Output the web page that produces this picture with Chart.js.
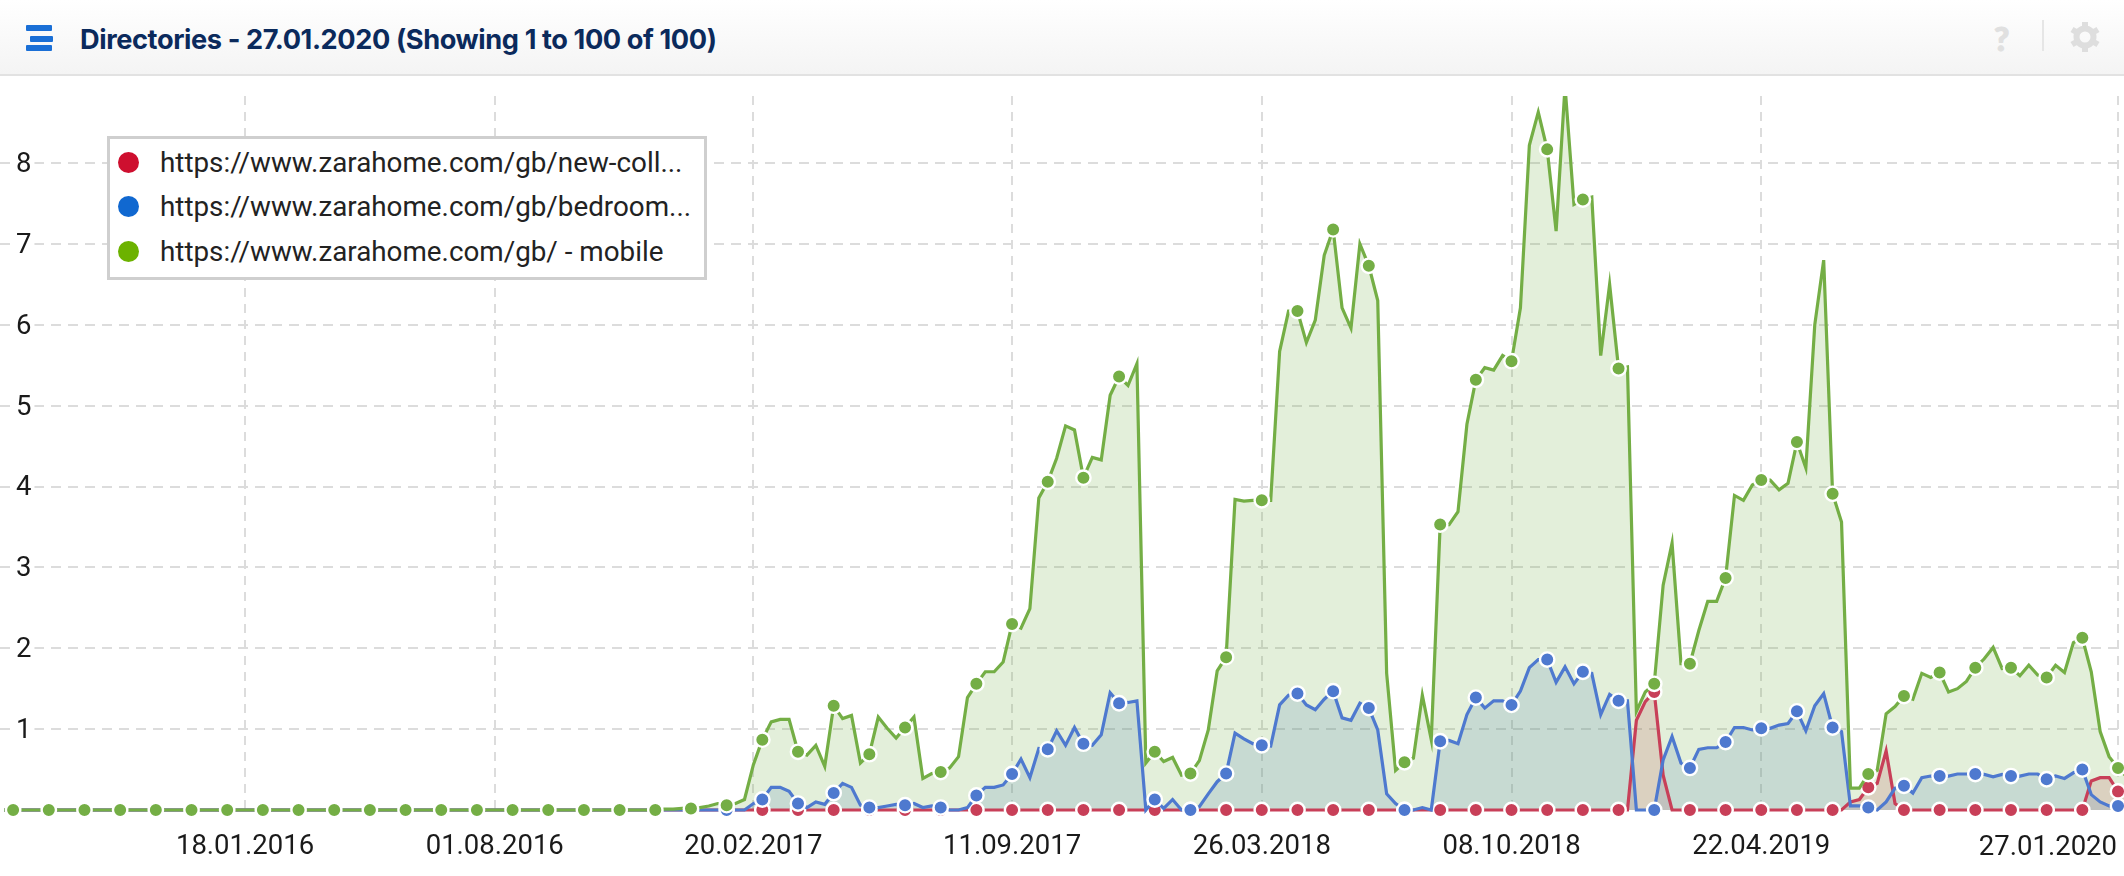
<!DOCTYPE html>
<html>
<head>
<meta charset="utf-8">
<title>Directories</title>
<script src="https://cdn.jsdelivr.net/npm/chart.js@4"></script>
<style>
  html, body { margin: 0; padding: 0; background: #fff; overflow: hidden; }
  #wrap { position: relative; width: 2124px; height: 876px; }
  #chart { position: absolute; left: 0; top: 0; }
  #head {
    position: absolute; left: 0; top: 0; width: 2124px; height: 74px;
    background: linear-gradient(#ffffff, #f4f4f4); border-bottom: 2px solid #e2e2e2;
  }
  #burger i { position: absolute; height: 6px; background: #1a6fd6; border-radius: 1px; }
  #title {
    position: absolute; left: 80px; top: 23px; font: 700 27.2px Inter, sans-serif;
    color: #0b2a5c; white-space: nowrap; letter-spacing: -0.4px;
  }
  #help { position: absolute; left: 1994px; top: 18px; font: 900 33px Lato, sans-serif; color: #e0e0e0; -webkit-text-stroke: 1px #e0e0e0; }
  #sep { position: absolute; left: 2042px; top: 20px; width: 2px; height: 31px; background: #e6e6e6; }
  #gear { position: absolute; left: 2069px; top: 21px; }
  #legend {
    position: absolute; left: 107px; top: 136px; width: 594px; height: 138px;
    background: #fff; border: 3px solid #cfcfcf; font: 27.8px Roboto, sans-serif; color: #222;
  }
  #legend div { position: absolute; left: 0; white-space: nowrap; }
  #legend b { position: absolute; left: 8px; top: 6px; width: 21px; height: 21px; border-radius: 50%; }
  #legend span { position: absolute; left: 50px; top: 0; line-height: 34px; }
</style>
</head>
<body>
<div id="wrap">
  <canvas id="chart" width="2124" height="876"></canvas>
  <div id="head">
    <div id="burger"><i style="left:26px;top:25px;width:26px"></i><i style="left:30px;top:36px;width:23px"></i><i style="left:26px;top:45px;width:26px"></i></div>
    <div id="title">Directories - 27.01.2020 (Showing 1 to 100 of 100)</div>
    <div id="help">?</div>
    <div id="sep"></div>
    <svg id="gear" width="32" height="32" viewBox="-16 -16 32 32">
      <circle r="8.5" fill="none" stroke="#dedede" stroke-width="6"></circle>
      <g fill="#dedede">
        <rect x="-3" y="-15" width="6" height="6"></rect>
        <rect x="-3" y="-15" width="6" height="6" transform="rotate(60)"></rect>
        <rect x="-3" y="-15" width="6" height="6" transform="rotate(120)"></rect>
        <rect x="-3" y="-15" width="6" height="6" transform="rotate(180)"></rect>
        <rect x="-3" y="-15" width="6" height="6" transform="rotate(240)"></rect>
        <rect x="-3" y="-15" width="6" height="6" transform="rotate(300)"></rect>
      </g>
    </svg>
  </div>
  <div id="legend"></div>
</div>
<script>
var tickDates = ['18.01.2016', '01.08.2016', '20.02.2017', '11.09.2017', '26.03.2018', '08.10.2018', '22.04.2019', '27.01.2020'];
var yTicks = [1, 2, 3, 4, 5, 6, 7, 8];

var seriesNames = ['https://www.zarahome.com/gb/new-coll...', 'https://www.zarahome.com/gb/bedroom...', 'https://www.zarahome.com/gb/ - mobile'];

// weekly values, ten per row
var redValues = [
  0,0,0,0,0,0,0,0,0,0, 0,0,0,0,0,0,0,0,0,0, 0,0,0,0,0,0,0,0,0,0, 0,0,0,0,0,0,0,0,0,0,
  0,0,0,0,0,0,0,0,0,0, 0,0,0,0,0,0,0,0,0,0, 0,0,0,0,0,0,0,0,0,0, 0,0,0,0,0,0,0,0,0,0,
  0,0,0,0,0,0,0,0,0,0, 0,0,0,0,0,0,0,0,0,0, 0,0,0,0,0,0,0,0,0,0, 0,0,0,0,0,0,0,0,0,0,
  0,0,0,0,0,0,0,0,0,0, 0,0,0,0,0,0,0,0,0,0, 0,0,0,0,0,0,0,0,0,0, 0,0,0,0,0,0,0,0,0,0,
  0,0,0,0,0,0,0,0,0,0,
  0,0,0,0,0,0,0,0,0,0,
  0,0,0,1.11,1.34,1.46,.43,0,0,0,
  0,0,0,0,0,0,0,0,0,0,
  0,0,0,0,0,0,0,.10,.13,.28,
  .33,.73,.08,0,0,0,0,0,0,0,
  0,0,0,0,0,0,0,0,0,0,
  0,0,0,0,.36,.40,.40,.23,.16
];
var blueValues = [
  0,0,0,0,0,0,0,0,0,0, 0,0,0,0,0,0,0,0,0,0, 0,0,0,0,0,0,0,0,0,0, 0,0,0,0,0,0,0,0,0,0,
  0,0,0,0,0,0,0,0,0,0, 0,0,0,0,0,0,0,0,0,0, 0,0,0,0,0,0,0,0,0,0, 0,0,0,0,0,0,0,0,0,0,
  0,0,0,0,.08,.13,.28,.28,.23,.08,
  .03,.10,.07,.21,.33,.28,.06,.03,.03,.05,
  .07,.06,.08,.03,.05,.03,0,0,.03,.18,
  .28,.28,.31,.445,.63,.40,.76,.75,.98,.80,
  1.02,.82,.80,.93,1.45,1.32,1.33,1.35,0,.13,
  .02,.13,0,0,.04,.20,.35,.45,.95,.88,
  .82,.80,.79,1.30,1.42,1.44,1.30,1.24,1.37,1.47,
  1.14,1.11,1.32,1.26,.99,.20,.08,0,0,.03,
  0,.85,.86,.82,1.18,1.39,1.26,1.35,1.35,1.30,
  1.47,1.76,1.86,1.86,1.58,1.77,1.56,1.71,1.69,1.18,
  1.43,1.35,1.35,0,0,0,.62,.91,.58,.52,
  .75,.77,.77,.84,1.02,1.02,.99,1.01,1.01,1.05,
  1.07,1.22,.98,1.29,1.44,1.02,.97,.05,.05,.03,
  0,.10,.27,.30,.21,.40,.42,.42,.42,.445,
  .445,.445,.44,.41,.44,.42,.42,.445,.445,.38,
  .42,.39,.46,.50,.19,.10,.05,.05,.05
];
var greenValues = [
  0,0,0,0,0,0,0,0,0,0, 0,0,0,0,0,0,0,0,0,0, 0,0,0,0,0,0,0,0,0,0, 0,0,0,0,0,0,0,0,0,0,
  0,0,0,0,0,0,0,0,0,0, 0,0,0,0,0,0,0,0,0,0, 0,0,0,0,0,0,0,0,0,0,
  0,0,0,0,.01,.01,.02,.02,.03,.05,
  .08,.06,.08,.13,.56,.87,1.09,1.12,1.12,.72,
  .68,.80,.54,1.29,1.13,1.17,.58,.69,1.15,1.01,
  .89,1.02,1.15,.39,.45,.47,.52,.66,1.39,1.56,
  1.71,1.71,1.83,2.30,2.25,2.49,3.86,4.06,4.35,4.75,
  4.70,4.11,4.36,4.33,5.13,5.36,5.25,5.52,.58,.72,
  .60,.65,.43,.45,.61,.99,1.72,1.89,3.84,3.82,
  3.83,3.83,3.83,5.67,6.17,6.17,5.78,6.06,6.86,7.18,
  6.21,5.96,7.00,6.73,6.30,1.69,.49,.59,.64,1.42,
  .87,3.53,3.53,3.69,4.77,5.32,5.47,5.44,5.62,5.55,
  6.21,8.22,8.63,8.17,7.16,8.95,7.49,7.55,7.58,5.62,
  6.50,5.46,5.48,1.22,1.46,1.56,2.78,3.30,1.81,1.81,
  2.22,2.58,2.58,2.87,3.89,3.83,4.02,4.08,4.08,3.96,
  4.04,4.55,4.23,6.00,6.80,3.91,3.56,.27,.27,.445,
  .49,1.19,1.28,1.41,1.37,1.69,1.64,1.70,1.46,1.50,
  1.59,1.76,1.87,2.01,1.75,1.76,1.66,1.79,1.67,1.64,
  1.79,1.70,2.07,2.13,1.71,.97,.66,.52,.41
];

function dayNumber(str) {
    var p = str.split('.');
    return Date.UTC(+p[2], +p[1] - 1, +p[0]) / 86400000;
}

var lastDay = dayNumber('27.01.2020');
var firstDay = lastDay - 237 * 7;

function toPoints(values) {
    return values.map(function(v, i) { return {x: firstDay + i * 7, y: v}; });
}

// a dot on every 4th week, counted from the last labelled date
function dotRadius(ctx) {
    return (237 - ctx.dataIndex) % 4 === 0 && ctx.dataIndex <= 237 ? 7.2 : 0;
}

function makeDataset(name, values, line, fill, order) {
    return {
        label: name,
        data: toPoints(values),
        borderColor: line,
        backgroundColor: fill,
        pointBackgroundColor: line,
        pointBorderColor: '#fff',
        pointBorderWidth: 2.4,
        pointRadius: dotRadius,
        borderWidth: 3.2,
        tension: 0,
        fill: 'origin',
        order: order,
        clip: {left: 0, top: 0, right: 10, bottom: 14}
    };
}

// the last date label sits left of its grid line, as it would run off the page otherwise
var lastLabelPlugin = {
    id: 'lastLabel',
    afterDraw: function(chart) {
        var scale = chart.scales.x;
        var c = chart.ctx;
        c.save();
        c.font = '27.5px Roboto';
        c.fillStyle = '#1a1a1a';
        c.textAlign = 'right';
        c.textBaseline = 'middle';
        c.fillText(tickDates[tickDates.length - 1], scale.getPixelForValue(lastDay) - 1, 848);
        c.restore();
    }
};

new Chart('chart', {
    type: 'line',
    data: {
        datasets: [
            makeDataset(seriesNames[0], redValues, '#c83f58', 'rgba(200,63,88,0.2)', 3),
            makeDataset(seriesNames[1], blueValues, '#4e79cf', 'rgba(78,121,207,0.2)', 2),
            makeDataset(seriesNames[2], greenValues, '#74ae45', 'rgba(116,174,69,0.2)', 1)
        ]
    },
    options: {
        responsive: false,
        animation: false,
        devicePixelRatio: 1,
        layout: {padding: {top: 96, left: 0, right: 0, bottom: 0}},
        plugins: {
            legend: {display: false},
            tooltip: {enabled: false},
            // all areas first, so no area tints the lines of another series
            filler: {drawTime: 'beforeDatasetsDraw'}
        },
        events: [],
        scales: {
            x: {
                type: 'linear',
                min: lastDay - 1662.3,
                max: lastDay + 4.7,
                afterBuildTicks: function(scale) {
                    scale.ticks = tickDates.map(function(d) { return {value: dayNumber(d)}; });
                },
                afterFit: function(scale) {
                    scale.height = 66;
                    scale.paddingLeft = 0;
                    scale.paddingRight = 0;
                },
                grid: {color: '#dcdcdc', lineWidth: 2, drawTicks: false},
                border: {display: false, dash: [9, 7]},
                ticks: {
                    autoSkip: false,
                    maxRotation: 0,
                    padding: 21,
                    color: '#1a1a1a',
                    font: {family: 'Roboto', size: 27.5},
                    callback: function(v) {
                        var i = tickDates.map(dayNumber).indexOf(v);
                        return i === tickDates.length - 1 ? '' : tickDates[i];
                    }
                }
            },
            y: {
                min: 0,
                max: 8.83,
                afterBuildTicks: function(scale) {
                    scale.ticks = yTicks.map(function(v) { return {value: v}; });
                },
                afterFit: function(scale) {
                    scale.width = 0;
                    scale.paddingTop = 0;
                    scale.paddingBottom = 0;
                },
                grid: {color: '#dcdcdc', lineWidth: 2, drawTicks: false},
                border: {display: false, dash: [10, 7]},
                ticks: {
                    mirror: true,
                    padding: 16,
                    labelOffset: 2,
                    showLabelBackdrop: true,
                    backdropColor: '#fff',
                    backdropPadding: 3,
                    color: '#1a1a1a',
                    font: {family: 'Roboto', size: 27.5}
                }
            }
        }
    },
    plugins: [lastLabelPlugin]
});

// legend box sits over the plot, names are cut off like in the tool itself
var legendColors = ['#ce0f2f', '#1068d0', '#6cb200'];
var legendEl = document.getElementById('legend');
seriesNames.forEach(function(name, i) {
    var row = document.createElement('div');
    row.style.top = (7.2 + i * 44.2) + 'px';
    row.innerHTML = '<b style="background:' + legendColors[i] + '"></b><span>' + name + '</span>';
    legendEl.appendChild(row);
});
</script>
</body>
</html>
